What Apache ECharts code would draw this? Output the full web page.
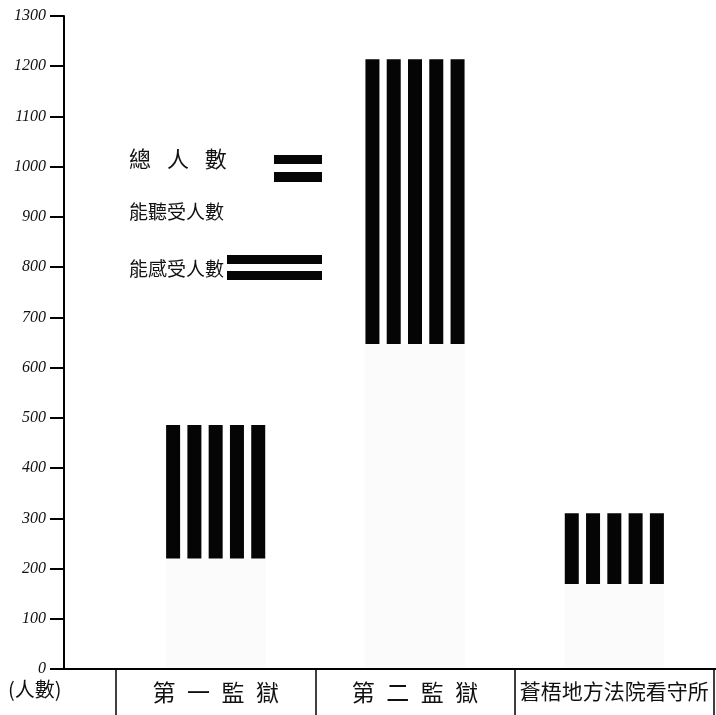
<!DOCTYPE html>
<html>
<head>
<meta charset="utf-8">
<script src="https://cdn.jsdelivr.net/npm/echarts@6/dist/echarts.min.js"></script>
<style>
html,body{margin:0;padding:0;background:#fff;}
#chart{width:716px;height:715px;}
</style>
</head>
<body>
<div id="chart"></div>
<script>
// ---- data ----
const categories = ['第\u2002一\u2002監\u2002獄', '第\u2002二\u2002監\u2002獄', '蒼梧地方法院看守所'];
const hearingCounts = [220, 647, 169];   // 能聽受人數 (faint lower part)
const feelingCounts = [266, 567, 141];   // 能感受人數 (black striped upper part)
const yTicks = [0, 100, 200, 300, 400, 500, 600, 700, 800, 900, 1000, 1100, 1200, 1300];
const legendNames = ['總\u2002 人\u2002 數', '能聽受人數', '能感受人數'];
const yUnit = '(人數)';

const STRIPES = 5;
const CJK = '"Noto Sans CJK TC","Noto Sans CJK SC",sans-serif';

const series = [];
// faint full-width lower block
series.push({
  type: 'bar', xAxisIndex: 2, yAxisIndex: 1, barWidth: 100,
  data: hearingCounts,
  itemStyle: { color: 'rgba(0,0,0,0.014)' },
  silent: true, z: 1
});
for (let k = 0; k < STRIPES; k++) {
  series.push({
    type: 'bar', xAxisIndex: 1, yAxisIndex: 1, stack: 's' + k,
    barWidth: 14, barGap: '52%',
    data: hearingCounts,
    itemStyle: { color: 'rgba(0,0,0,0)' }, silent: true, z: 2
  });
  series.push({
    type: 'bar', xAxisIndex: 1, yAxisIndex: 1, stack: 's' + k,
    barWidth: 14, barGap: '52%',
    data: feelingCounts,
    itemStyle: { color: '#050505' }, silent: true, z: 2
  });
}

const chart = echarts.init(document.getElementById('chart'), null, { renderer: 'canvas' });
chart.setOption({
  animation: false,
  backgroundColor: '#fff',
  grid: [
    { left: 64, right: 0, top: 16, bottom: 46 },
    { left: 116, right: 2, top: 16, bottom: 46 }
  ],
  xAxis: [
    { type: 'value', gridIndex: 0, min: 0, max: 1,
      axisLine: { show: true, onZero: false, lineStyle: { color: '#000', width: 2 } },
      axisTick: { show: false }, axisLabel: { show: false }, splitLine: { show: false } },
    { type: 'category', gridIndex: 1, data: categories, boundaryGap: true,
      axisLine: { show: false },
      axisTick: { show: true, length: 46, interval: 0, alignWithLabel: false,
                  lineStyle: { color: '#000', width: 1.5 } },
      axisLabel: { interval: 0, margin: 12, color: '#111', fontFamily: CJK,
                   formatter: function (v, i) { return (i === 2 ? '{s|' : '{b|') + v + '}'; },
                   rich: { b: { fontSize: 23, fontFamily: CJK, color: '#111' },
                           s: { fontSize: 21, fontFamily: CJK, color: '#111' } } } },
    { type: 'category', gridIndex: 1, data: categories, show: false }
  ],
  yAxis: [
    { type: 'value', gridIndex: 0, min: yTicks[0], max: yTicks[yTicks.length - 1], interval: 100,
      axisLine: { show: true, lineStyle: { color: '#000', width: 2 } },
      axisTick: { show: true, length: 14, lineStyle: { color: '#000', width: 2 } },
      axisLabel: { margin: 18, fontSize: 16, fontStyle: 'italic', color: '#111',
                   fontFamily: '"Liberation Serif","DejaVu Serif",serif',
                   formatter: function (v) { return String(v); } },
      splitLine: { show: false } },
    { type: 'value', gridIndex: 1, min: 0, max: 1300, show: false }
  ],
  series: series,
  graphic: [
    { type: 'text', left: 129, top: 148, style: { text: legendNames[0], font: '22px ' + CJK, fill: '#111' } },
    { type: 'rect', shape: { x: 274, y: 155, width: 48, height: 9 }, style: { fill: '#050505' } },
    { type: 'rect', shape: { x: 274, y: 172, width: 48, height: 10 }, style: { fill: '#050505' } },
    { type: 'text', left: 129, top: 202, style: { text: legendNames[1], font: '19px ' + CJK, fill: '#111' } },
    { type: 'text', left: 129, top: 259, style: { text: legendNames[2], font: '19px ' + CJK, fill: '#111' } },
    { type: 'rect', shape: { x: 227, y: 255, width: 95, height: 9 }, style: { fill: '#050505' } },
    { type: 'rect', shape: { x: 227, y: 271, width: 95, height: 9 }, style: { fill: '#050505' } },
    { type: 'text', left: 8, top: 679, style: { text: yUnit, font: '20px ' + CJK, fill: '#111' } }
  ]
});
</script>
</body>
</html>
